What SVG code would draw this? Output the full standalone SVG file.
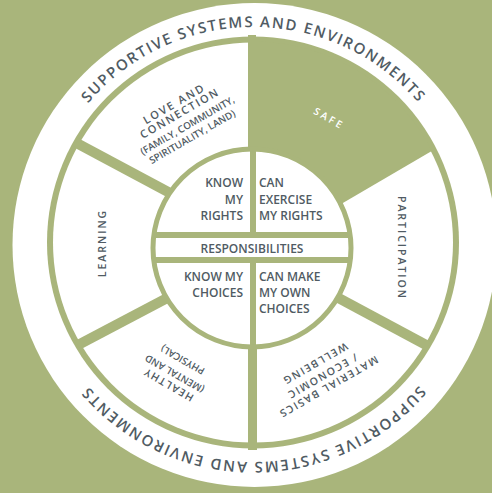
<svg xmlns="http://www.w3.org/2000/svg" width="492" height="493" viewBox="0 0 492 493">
<defs>
<style>
.bg{fill:#a9b57b}
.dv{stroke:#a9b57b;fill:none;stroke-linecap:butt}
.t{font-family:'Open Sans','Noto Sans','DejaVu Sans',sans-serif;font-weight:600;fill:#505b63}
.in{font-size:12px}
.seg{font-size:10.5px;letter-spacing:1.6px;text-anchor:middle}
.sm{font-size:9.8px;letter-spacing:0px;text-anchor:middle}
.ring{font-size:15px;letter-spacing:1.7px}
</style>
<clipPath id="segClip"><circle cx="253" cy="242.5" r="201"/></clipPath>
<clipPath id="innerClip"><circle cx="252" cy="248" r="99"/></clipPath>
<path id="ringPath" d="M 36 244.5 A 217.5 217.5 0 1 1 471 244.5 A 217.5 217.5 0 1 1 36 244.5"/>
</defs>
<rect width="492" height="493" class="bg"/>
<g id="outer-ring">
<circle cx="254.5" cy="245" r="242" fill="#fff"/>
<text class="t ring"><textPath href="#ringPath" startOffset="25%" text-anchor="middle">SUPPORTIVE SYSTEMS AND ENVIRONMENTS</textPath></text>
<text class="t ring"><textPath href="#ringPath" startOffset="75%" text-anchor="middle">SUPPORTIVE SYSTEMS AND ENVIRONMENTS</textPath></text>
</g>
<circle cx="253" cy="242.5" r="206" class="bg"/>
<circle cx="253" cy="242.5" r="200" fill="#fff"/>
<g id="safe">
<polygon points="248,258.5 248,20 490,20 490,117" class="bg" clip-path="url(#segClip)"/>
<text class="t seg" transform="translate(329,118.5) rotate(30)" y="3.5" style="font-size:10px;letter-spacing:2.6px;fill:#fff">SAFE</text>
</g>
<g id="dividers">
<line class="dv" x1="252" y1="35" x2="252" y2="170" stroke-width="8"/>
<line class="dv" x1="252.5" y1="330" x2="252.5" y2="450" stroke-width="9"/>
<line class="dv" x1="76.5" y1="143" x2="185" y2="201" stroke-width="10"/>
<line class="dv" x1="78" y1="345" x2="190" y2="286" stroke-width="10"/>
<line class="dv" x1="428" y1="346" x2="318" y2="287" stroke-width="10"/>
</g>
<g id="love">
<g transform="translate(183,121) rotate(-30)">
<text class="t seg" x="1" y="-15.5" style="font-size:11px;letter-spacing:1.9px">LOVE AND</text>
<text class="t seg" x="1" y="-4.5" style="font-size:11px;letter-spacing:1.7px">CONNECTION</text>
<text class="t sm" x="1.5" y="9.5">(FAMILY, COMMUNITY,</text>
<text class="t sm" x="0" y="21.8">SPIRITUALITY, LAND)</text>
</g>
</g>
<g id="participation">
<text class="t seg" transform="translate(402,248) rotate(90)" y="3.8" style="letter-spacing:2px">PARTICIPATION</text>
</g>
<g id="learning">
<text class="t seg" transform="translate(102,243) rotate(-90)" y="3.8" style="letter-spacing:2px">LEARNING</text>
</g>
<g id="healthy">
<g transform="translate(175,373) rotate(-150)">
<text class="t seg" y="-9.7" style="letter-spacing:1.4px">HEALTHY</text>
<text class="t sm" y="2.6">(MENTAL AND</text>
<text class="t sm" y="18.6">PHYSICAL)</text>
</g>
</g>
<g id="material">
<g transform="translate(322,376) rotate(150)">
<text class="t seg" y="-9">MATERIAL BASICS</text>
<text class="t seg" y="3.3">/ ECONOMIC</text>
<text class="t seg" y="17.8">WELLBEING</text>
</g>
</g>
<g id="centre">
<circle cx="252" cy="248" r="99" fill="#fff"/>
<g clip-path="url(#innerClip)">
<rect x="140" y="232" width="230" height="31" class="bg"/>
<rect x="140" y="238" width="230" height="19" fill="#fff"/>
<rect x="250" y="140" width="6" height="93" class="bg"/>
<rect x="250" y="262" width="6" height="95" class="bg"/>
</g>
<circle cx="252" cy="248" r="99" fill="none" stroke="#a9b57b" stroke-width="5"/>
</g>
<g id="know-rights">
<text class="t in" text-anchor="end" x="243" y="187">KNOW</text>
<text class="t in" text-anchor="end" x="243" y="203.5">MY</text>
<text class="t in" text-anchor="end" x="243" y="220">RIGHTS</text>
</g>
<g id="exercise-rights">
<text class="t in" x="259" y="187">CAN</text>
<text class="t in" x="259" y="203.5">EXERCISE</text>
<text class="t in" x="259" y="220">MY RIGHTS</text>
</g>
<g id="responsibilities">
<text class="t in" text-anchor="middle" x="252" y="252.7">RESPONSIBILITIES</text>
</g>
<g id="know-choices">
<text class="t in" text-anchor="end" x="243" y="281">KNOW MY</text>
<text class="t in" text-anchor="end" x="243" y="297">CHOICES</text>
</g>
<g id="make-choices">
<text class="t in" x="259" y="281">CAN MAKE</text>
<text class="t in" x="259" y="297">MY OWN</text>
<text class="t in" x="259" y="313">CHOICES</text>
</g>
</svg>
